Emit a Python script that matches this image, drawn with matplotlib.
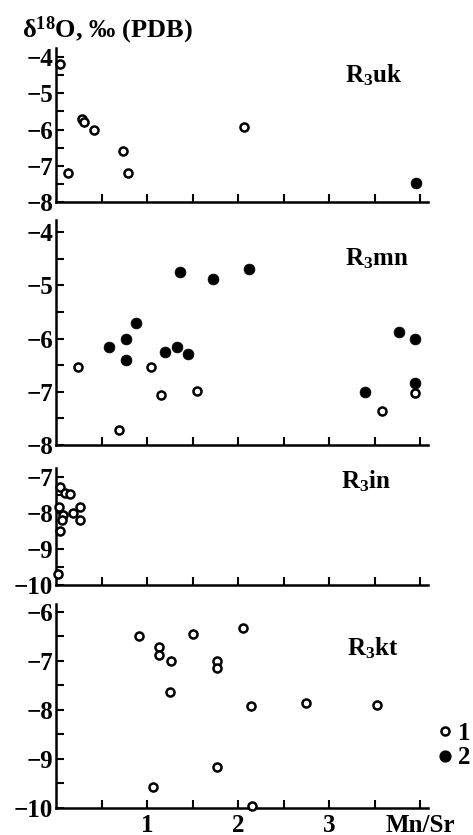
import matplotlib
matplotlib.use("Agg")
import matplotlib.pyplot as plt
from matplotlib.ticker import MultipleLocator, FixedLocator
from matplotlib.lines import Line2D

plt.rcParams['font.family'] = ['Liberation Serif', 'DejaVu Serif']
plt.rcParams['font.weight'] = 'bold'
plt.rcParams['mathtext.fontset'] = 'custom'
plt.rcParams['mathtext.rm'] = 'Liberation Serif:bold'
plt.rcParams['mathtext.it'] = 'Liberation Serif:italic:bold'
plt.rcParams['mathtext.bf'] = 'Liberation Serif:bold'

# --- R3uk ---
uk_open_x = [0.04, 0.13, 0.29, 0.31, 0.42, 0.74, 0.79, 2.07]
uk_open_y = [-4.2, -7.2, -5.7, -5.8, -6.0, -6.6, -7.2, -5.93]
uk_fill_x = [3.96]
uk_fill_y = [-7.48]

# --- R3mn ---
mn_open_x = [0.24, 0.69, 1.04, 1.15, 1.55, 3.58, 3.95]
mn_open_y = [-6.53, -7.71, -6.53, -7.06, -6.98, -7.36, -7.02]
mn_fill_x = [0.58, 0.77, 0.77, 0.88, 1.20, 1.33, 1.36, 1.45, 1.73, 2.12,
             3.40, 3.77, 3.95, 3.95]
mn_fill_y = [-6.15, -6.0, -6.4, -5.70, -6.25, -6.15, -4.75, -6.29, -4.87, -4.7,
             -7.0, -5.87, -6.0, -6.84]

# --- R3in ---
in_open_x = [0.04, 0.10, 0.15, 0.03, 0.26, 0.19, 0.08, 0.26, 0.07, 0.04, 0.02]
in_open_y = [-7.28, -7.45, -7.47, -7.83, -7.83, -8.0, -8.05, -8.2, -8.2, -8.5, -9.7]

# --- R3kt ---
kt_open_x = [0.91, 1.13, 1.13, 1.26, 1.25, 1.51, 1.77, 1.77, 1.77, 1.07,
             2.05, 2.14, 2.75, 3.53, 2.15]
kt_open_y = [-6.5, -6.72, -6.87, -7.0, -7.63, -6.46, -7.0, -7.15, -9.17, -9.57,
             -6.33, -7.93, -7.86, -7.9, -9.95]

panel_names = [r"R$_3$uk", r"R$_3$mn", r"R$_3$in", r"R$_3$kt"]
panel_ylims = [(-8, -3.75), (-8, -3.77), (-10, -6.75), (-10, -5.84)]
panel_yticks = [[-8, -7, -6, -5, -4], [-8, -7, -6, -5, -4],
                [-10, -9, -8, -7], [-10, -9, -8, -7, -6]]
x_tick_pos = [0.5, 1, 1.5, 2, 2.5, 3, 3.5, 4]
x_tick_lab = ['', '1', '', '2', '', '3', '', 'Mn/Sr']

series = [
    (uk_open_x, uk_open_y, uk_fill_x, uk_fill_y),
    (mn_open_x, mn_open_y, mn_fill_x, mn_fill_y),
    (in_open_x, in_open_y, [], []),
    (kt_open_x, kt_open_y, [], []),
]

W, H = 473, 835
fig = plt.figure(figsize=(W / 100, H / 100), dpi=100)

# panel extents in pixels (top, bottom)
rows = [(48, 202), (220, 445), (468, 585), (604, 808)]
# panel label anchor (y, x) in data units
label_pos = [(-4.5, 3.18), (-4.5, 3.18), (-7.12, 3.13), (-6.75, 3.2)]

left_px, right_px = 56, 428
xmax = (right_px - left_px) / 91.0

fs = 18
open_kw = dict(marker='o', ms=5.8, mfc='white', mec='black', mew=1.8,
               ls='none', clip_on=False, zorder=3)
fill_kw = dict(marker='o', ms=7.8, mfc='black', mec='black', mew=0.5,
               ls='none', clip_on=False, zorder=3)

axes = []
for i, (top, bot) in enumerate(rows):
    ax = fig.add_axes([left_px / W, 1 - bot / H, (right_px - left_px) / W, (bot - top) / H])
    axes.append(ax)
    ox, oy, fx, fy = series[i]
    ax.plot(ox, oy, **open_kw)
    if fx:
        ax.plot(fx, fy, **fill_kw)
    ax.set_xlim(0, xmax)
    ax.set_ylim(*panel_ylims[i])
    ax.set_yticks(panel_yticks[i])
    ax.yaxis.set_minor_locator(MultipleLocator(0.5))
    ax.xaxis.set_major_locator(FixedLocator(x_tick_pos))
    if i == len(rows) - 1:
        ax.set_xticklabels(x_tick_lab)
    else:
        ax.set_xticklabels([])
    for s in ('top', 'right'):
        ax.spines[s].set_visible(False)
    for s in ('left', 'bottom'):
        ax.spines[s].set_linewidth(1.8)
    ax.tick_params(axis='both', which='both', direction='in', width=1.5,
                   labelsize=fs)
    ax.tick_params(axis='both', which='major', length=5.5)
    ax.tick_params(axis='y', which='minor', length=5.5)
    ax.tick_params(axis='y', pad=2)
    ax.tick_params(axis='x', pad=4)
    ax.patch.set_alpha(0)
    ax.text(label_pos[i][1], label_pos[i][0], panel_names[i], fontsize=fs,
            ha='left', va='center')

fig.text(22 / W, 1 - 37 / H, r"δ$^{18}$O, ‰ (PDB)", fontsize=fs + 1,
         ha='left', va='baseline')

handles = [Line2D([], [], marker='o', ms=5.8, mfc='white', mec='black', mew=1.8, ls='none'),
           Line2D([], [], marker='o', ms=7.8, mfc='black', mec='black', ls='none')]
fig.legend(handles, ['1', '2'], loc='center left', bbox_to_anchor=(0.925, 0.107),
           frameon=False, fontsize=fs, handlelength=0.6, handletextpad=0.2,
           labelspacing=0.05, borderpad=0, borderaxespad=0)

fig.savefig("out.png", dpi=100)
